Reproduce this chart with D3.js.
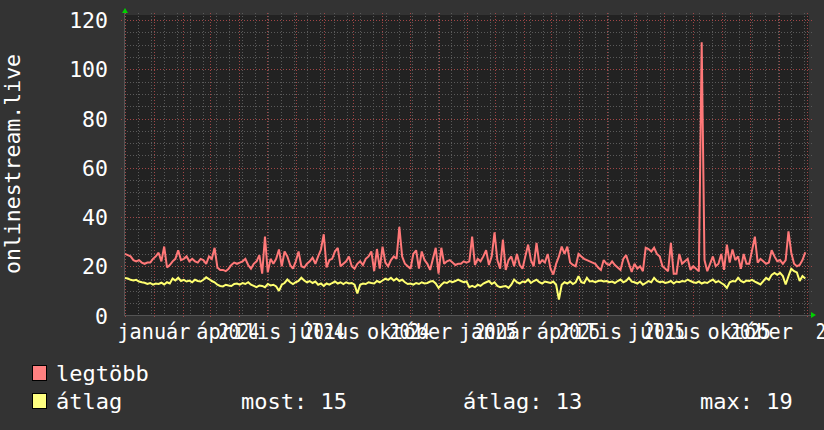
<!DOCTYPE html>
<html>
<head>
<meta charset="utf-8">
<script src="https://cdn.jsdelivr.net/npm/d3@7"></script>
<style>
body { margin: 0; background: #333; }
svg { display: block; }
text { font-family: "DejaVu Sans Mono", monospace; fill: #fff; }
</style>
</head>
<body>
<script>
// one value every 3 days, starting 2023-12-01
const startDate = "2023-12-01";
const stepDays = 3;

const legtobb = [25,24.5,24,22.5,22,22.5,21.5,21,21.5,21.5,
    23,24,25.5,22,28,19.5,20.5,22,23,26.5,
    22.5,23,24,22,23,22,21.5,23,22.5,21,
    24,23,27.5,19.5,18.5,18.5,18,19,20.5,21.5,
    21,21.5,22,23,20.5,19,21,22,24.5,17,
    32,17.5,23,21,23,26.8,20,26,24,20.5,
    19,22,26,20,19.5,21,22,23.5,21,24,
    26.8,33,19.5,22.5,23,26,27.5,20,21,22,
    24,20,19,21,22,20.5,23,24,26,18,
    27,19,28,21.5,20,22.5,24,23,36,24,
    21,20,19,25,26.5,19,26,22.5,21,18.5,
    23,27.5,17,27.5,21,22,22.5,21.5,20.5,21,
    21,22,21.5,22,32,20.5,23,22,24,26.5,
    20.5,24,33.8,22.5,19,30.8,18.5,22.5,24,20,
    25,20.5,19,24,28.8,22.5,20,29.5,21,22.5,
    21.5,25,19,16.6,21,24,28,25,28,21.5,
    20.5,20,25,24,23,22.5,22,21.5,21,19.5,
    18.5,22.5,21,20.5,22,20.5,19.5,18.5,23,24.5,
    21,17.7,21,19,20,18,27.5,27,26,27.5,
    25,24,20,19,18,29.5,17,17,25,21,
    22,23,18.5,20,19,18,111,22.5,18,21,
    24,20,21,25,18.5,28.8,21.5,26.8,22.5,24,
    19,25,21,21,26.5,32,21.5,23,22,21,
    21.5,26.5,24,22,22.5,21,22.5,34.2,25.5,21,
    20,20.5,22.5,25.7];

const atlag = [15.2,15,14.5,14.2,14.5,13.8,13.5,13.3,12.8,13.2,
    12.5,13,12.8,13.3,12.6,13.5,13,15,14.2,15.3,
    14,14.5,13.8,14.2,13.5,14.5,14,13.8,14.5,15.5,
    14.8,14,13.5,12.5,12,11.8,12.5,12.2,12,12.8,
    13,12.5,13.2,12.8,13.5,12.5,12,11.5,12.2,12,
    11.5,12.8,12.2,12.5,11.8,10,12.5,13.2,14.6,13.5,
    12.8,13.5,14,15.3,14.2,13.5,14,13.2,13.8,12.5,
    13,12,13,12.5,13.2,13.8,13,13.5,12.8,13.5,
    13,13.2,12.5,9,12.5,13,12.8,13.5,13.2,13,
    14,13.5,14.2,15,14.5,15.3,14.2,15,14,14.5,
    13.5,12.8,13,12.5,13.2,12.8,13.5,13,13.2,13.8,
    14,13,11.2,12.5,13.5,13.2,14,13.5,14,14.6,
    14,13.5,13.8,11.5,12,11.5,12.5,12,13,13.5,
    14,12.8,13.5,12,11.5,11.8,12,11.2,12.5,14.6,
    13.5,13,13.8,13.5,14.6,13.2,14,14.5,13.5,13,
    13.8,13.5,13.2,13.8,12.5,6.5,12.5,13.5,13,13.8,
    12.8,13.5,16,13.5,13.2,15.3,13.8,14,13.5,14,
    14.2,13.8,14,13.5,13.8,13.2,14,14.6,13.5,14,
    15.3,13.8,13.5,13,13.8,12.5,13.2,14,13.5,15.3,
    14,13.5,13.8,13.2,13.5,14,13,13.8,13.5,14,
    13.8,14.6,14,13.5,13.2,13.8,13,13.5,13.2,14,
    14.6,13.5,14,13.2,12.5,11.2,13.5,14,13.8,15.3,
    14,13.5,14.2,14,14.5,13.8,13.2,12.6,14,15.3,
    14.5,16.5,17.3,16.5,17.3,16,12.6,16,19,18,
    17.5,14,16,15];

const monthTicks = ["2024-01-01","2024-04-01","2024-07-01","2024-10-01",
    "2025-01-01","2025-04-01","2025-07-01","2025-10-01"];
const monthNames = ["január","április","július","október",
    "január","április","július","október"];
const yearTicks = ["2024-04-01","2024-07-01","2024-10-01","2025-01-01",
    "2025-04-01","2025-07-01","2025-10-01","2026-01-01"];
const yearNames = ["2024","2024","2024","2025","2025","2025","2025","2026"];

const yTicks = [0, 20, 40, 60, 80, 100, 120];
const statLabels = ["most: 15", "átlag: 13", "max: 19"];

const width = 824, height = 430;
const t0 = new Date(startDate + "T00:00:00Z");
const day = 864e5;

const x = d3.scaleUtc()
    .domain([t0, new Date(Date.UTC(2025, 11, 3))])
    .range([125, 809]);
const y = d3.scaleLinear().domain([0, 120]).range([315.5, 20]);

const svg = d3.select("body").append("svg")
    .attr("width", width)
    .attr("height", height);

svg.append("rect").attr("width", width).attr("height", height).attr("fill", "#333");
svg.append("rect")
    .attr("x", 124).attr("y", 15)
    .attr("width", 685).attr("height", 301)
    .attr("fill", "#222");

// minor grid
const grid = svg.append("g").attr("stroke-dasharray", "1,2").attr("stroke-width", 1);
const minorY = d3.range(0, 121, 5).filter(v => v % 20 != 0);
grid.selectAll("line.my").data(minorY).enter().append("line")
    .attr("x1", 124).attr("x2", 812)
    .attr("y1", d => Math.round(y(d)) + 0.5).attr("y2", d => Math.round(y(d)) + 0.5)
    .attr("stroke", "#5a5a5a");
const minorX = d3.range(13.5, 733, 14).map(d => new Date(+t0 + d * day));
grid.selectAll("line.mx").data(minorX).enter().append("line")
    .attr("x1", d => Math.round(x(d)) + 0.5).attr("x2", d => Math.round(x(d)) + 0.5)
    .attr("y1", 13).attr("y2", 316)
    .attr("stroke", "#5a5a5a");

// major grid
grid.selectAll("line.My").data(yTicks.filter(d => d > 0)).enter().append("line")
    .attr("x1", 121).attr("x2", 812)
    .attr("y1", d => Math.round(y(d)) + 0.5).attr("y2", d => Math.round(y(d)) + 0.5)
    .attr("stroke", "#a04646");
grid.selectAll("line.Mx").data(x.ticks(d3.utcMonth.every(1))).enter().append("line")
    .attr("x1", d => Math.round(x(d)) + 0.5).attr("x2", d => Math.round(x(d)) + 0.5)
    .attr("y1", 13).attr("y2", 319)
    .attr("stroke", "#a04646");

// axes
svg.append("line").attr("x1", 124.5).attr("x2", 124.5).attr("y1", 12).attr("y2", 316)
    .attr("stroke", "#555");
svg.append("line").attr("x1", 124).attr("x2", 811).attr("y1", 315.5).attr("y2", 315.5)
    .attr("stroke", "#555");
svg.append("path").attr("d", "M125,8 L128,13 L122,13 Z").attr("fill", "#00d000");
svg.append("path").attr("d", "M816,315 L811,312 L811,318 Z").attr("fill", "#00d000");

// y labels
svg.append("g").selectAll("text").data(yTicks).enter().append("text")
    .attr("x", 108)
    .attr("y", d => y(d) + 8)
    .attr("text-anchor", "end")
    .style("font-size", "21.5px")
    .text(d => d);

svg.append("text")
    .attr("transform", "translate(20,164) rotate(-90)")
    .attr("text-anchor", "middle")
    .style("font-size", "21.5px")
    .text("onlinestream.live");

// x labels: month name and year are drawn over each other at the tick
const xl = svg.append("g").style("font-size", "22px").attr("text-anchor", "middle");
xl.selectAll("text.m").data(monthTicks).enter().append("text")
    .attr("transform", d => `translate(${x(new Date(d + "T00:00:00Z"))},339) scale(0.92,1)`)
    .text((d, i) => monthNames[i]);
xl.selectAll("text.yr").data(yearTicks).enter().append("text")
    .attr("transform", d => `translate(${x(new Date(d + "T00:00:00Z"))},339) scale(0.77,1)`)
    .text((d, i) => yearNames[i]);

// lines
const dates = legtobb.map((d, i) => new Date(+t0 + i * stepDays * day));
const line = d3.line()
    .x((d, i) => x(dates[i]))
    .y(d => y(d));

svg.append("path").datum(atlag)
    .attr("d", line)
    .attr("fill", "none")
    .attr("stroke", "#ffff70")
    .attr("stroke-width", 2)
    .attr("stroke-linejoin", "miter")
    .attr("stroke-miterlimit", 2);
svg.append("path").datum(legtobb)
    .attr("d", line)
    .attr("fill", "none")
    .attr("stroke", "#ff7878")
    .attr("stroke-width", 2)
    .attr("stroke-linejoin", "miter")
    .attr("stroke-miterlimit", 2);

// legend
const legend = svg.append("g").style("font-size", "22px");
[["legtöbb", "#ff8080", 381], ["átlag", "#ffff80", 409]].forEach(function(l) {
    legend.append("rect")
        .attr("x", 32.5).attr("y", l[2] - 15.5)
        .attr("width", 14).attr("height", 15)
        .attr("fill", l[1]).attr("stroke", "#000");
    legend.append("text").attr("x", 56).attr("y", l[2]).text(l[0]);
});
legend.selectAll("text.s").data(statLabels).enter().append("text")
    .attr("x", (d, i) => [241, 463, 700][i])
    .attr("y", 409)
    .text(d => d);
</script>
</body>
</html>
